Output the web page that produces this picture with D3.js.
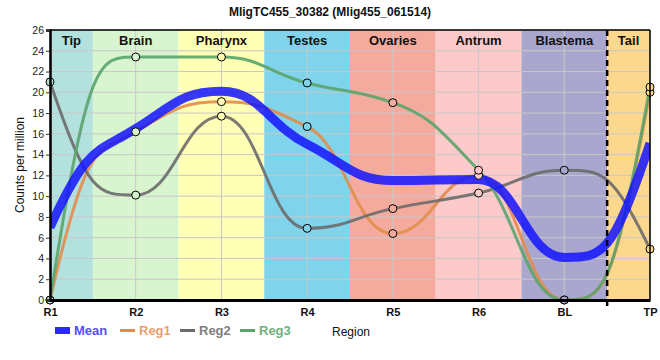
<!DOCTYPE html>
<html><head><meta charset="utf-8">
<script src="https://cdn.jsdelivr.net/npm/d3@7"></script>
<style>body{margin:0;background:#fff}svg{display:block;font-family:"Liberation Sans",Arial,sans-serif}</style>
</head><body><svg id="c" width="660" height="360"></svg>
<script>
const categories = ["R1","R2","R3","R4","R5","R6","BL","TP"];
const meanValues = [7.0,16.5,20.1,15.0,11.5,11.6,4.1,15.1];
const reg1Values = [0,16.2,19.1,16.7,6.4,12.0,0,20.0];
const reg2Values = [21.0,10.1,17.7,6.9,8.8,10.3,12.5,4.9];
const reg3Values = [0,23.4,23.4,20.9,19.0,12.5,0,20.5];
const regionNames = ["Tip","Brain","Pharynx","Testes","Ovaries","Antrum","Blastema","Tail"];
const regionStart = [0,0.5,1.5,2.5,3.5,4.5,5.5,6.5];
const regionEnd = [0.5,1.5,2.5,3.5,4.5,5.5,6.5,7];
const regionColors = ["#b3e1dd","#d8f5cf","#ffffb5","#7fd3ea","#f4ab9d","#fccacb","#a9a7cd","#fcd88e"];
const yTicks = d3.range(0,27,2);
const seriesNames = ["Reg1","Reg2","Reg3"];
const seriesColors = ["#e28c4c","#6b6b6b","#5aa46c"];
const legendTextColors = ["#e8a070","#808080","#6fb07f"];

const svg = d3.select("#c");
const L=50,R=650,T=30,B=300;
const x = d3.scalePoint().domain(categories).range([L,R]);
const step = x.step();
const xi = i => L + i*step;
const y = d3.scaleLinear().domain([0,26]).range([B,T]);

// shape-preserving bezier spline (harmonic-mean tangents, wide handles)
function spline(vals){
  const P = vals.map((v,i)=>({x:x(categories[i]), y:y(v)}));
  const n = P.length, f = 0.45;
  const d = [];
  for(let i=0;i<n-1;i++) d.push((P[i+1].y-P[i].y)/(P[i+1].x-P[i].x));
  const m = new Array(n).fill(0);
  for(let i=1;i<n-1;i++){
    const a=d[i-1], b=d[i];
    m[i] = (a*b>0) ? 2/(1/a+1/b) : 0;
  }
  m[0] = 3*d[0]-2*m[1];
  m[n-1] = 3*d[n-2]-2*m[n-2];
  const clamp = (v,a,b)=>Math.max(Math.min(a,b),Math.min(Math.max(a,b),v));
  const path = d3.path();
  path.moveTo(P[0].x,P[0].y);
  for(let i=0;i<n-1;i++){
    const a=P[i], b=P[i+1], h=b.x-a.x;
    const c1y = clamp(a.y + m[i]*f*h, a.y, b.y);
    const c2y = clamp(b.y - m[i+1]*f*h, a.y, b.y);
    path.bezierCurveTo(a.x+f*h, c1y, b.x-f*h, c2y, b.x, b.y);
  }
  return path.toString();
}

// bands
svg.append("g").selectAll("rect").data(regionNames).join("rect")
  .attr("x",(d,i)=>xi(regionStart[i])).attr("y",T)
  .attr("width",(d,i)=>xi(regionEnd[i])-xi(regionStart[i])).attr("height",B-T)
  .attr("fill",(d,i)=>regionColors[i]);

// grid
const g = svg.append("g");
g.selectAll("line.h").data(yTicks).join("line").attr("class","h")
  .attr("x1",L).attr("x2",R).attr("y1",d=>y(d)).attr("y2",d=>y(d))
  .attr("stroke","#c8c8c8").attr("stroke-width",1);
g.selectAll("line.v").data(categories).join("line").attr("class","v")
  .attr("x1",d=>x(d)).attr("x2",d=>x(d)).attr("y1",T).attr("y2",B)
  .attr("stroke","#c8c8c8").attr("stroke-width",1);

// band labels
svg.append("g").selectAll("text").data(regionNames).join("text")
  .attr("x",(d,i)=>(xi(regionStart[i])+xi(regionEnd[i]))/2).attr("y",45)
  .attr("text-anchor","middle").attr("font-size",13).attr("font-weight","bold")
  .attr("fill","#111").text(d=>d);

// clip
svg.append("clipPath").attr("id","clip").append("rect").attr("x",L).attr("y",T).attr("width",R-L).attr("height",B-T);

const lines = svg.append("g").attr("clip-path","url(#clip)");
[reg1Values,reg2Values,reg3Values].forEach((vals,k)=>{
  lines.append("path").attr("d",spline(vals)).attr("fill","none")
    .attr("stroke",seriesColors[k]).attr("stroke-width",3).attr("opacity",0.9);
});
lines.append("path").attr("d",spline(meanValues)).attr("fill","none")
  .attr("stroke","#1414ff").attr("stroke-width",9).attr("opacity",0.85);

// dashed line
svg.append("line").attr("x1",xi(6.5)).attr("x2",xi(6.5)).attr("y1",T).attr("y2",B+6)
  .attr("stroke","#000").attr("stroke-width",2.5).attr("stroke-dasharray","6,4");

// circles
const bandColorAt = i => { for(let k=0;k<regionNames.length;k++){ if(i>=regionStart[k] && i<regionEnd[k]) return regionColors[k]; } return regionColors[regionColors.length-1]; };
const pts = svg.append("g");
[reg1Values,reg2Values,reg3Values].forEach(vals=>{
  pts.selectAll(null).data(vals).join("circle")
    .attr("cx",(d,i)=>x(categories[i])).attr("cy",d=>y(d)).attr("r",4)
    .attr("fill",(d,i)=>bandColorAt(i)).attr("stroke","#000").attr("stroke-width",1);
});

// frame
svg.append("line").attr("x1",L).attr("x2",R).attr("y1",T).attr("y2",T).attr("stroke","#000").attr("stroke-width",1.5);
svg.append("line").attr("x1",R).attr("x2",R).attr("y1",T).attr("y2",B).attr("stroke","#000").attr("stroke-width",1.5);

// y axis
const ya = svg.append("g").attr("transform",`translate(${L},0)`)
  .call(d3.axisLeft(y).tickValues(yTicks).tickSize(4).tickPadding(2).tickFormat(d3.format("d")));
ya.select(".domain").attr("stroke","#000").attr("stroke-width",2.5);
ya.selectAll("text").attr("font-size",10.5).attr("fill","#222").attr("font-family","Liberation Sans, Arial, sans-serif");
ya.selectAll(".tick line").attr("stroke","#333");

// x axis
const xa = svg.append("g").attr("transform",`translate(0,${B})`)
  .call(d3.axisBottom(x).tickSize(0).tickPadding(6));
xa.select(".domain").attr("stroke","#000").attr("stroke-width",3);
xa.selectAll("text").attr("font-size",11).attr("font-weight","bold").attr("fill","#111")
  .attr("dy","0.9em").attr("font-family","Liberation Sans, Arial, sans-serif");

// title
svg.append("text").attr("x",330).attr("y",16).attr("text-anchor","middle")
  .attr("font-size",12).attr("font-weight","bold").attr("fill","#111")
  .text("MligTC455_30382 (Mlig455_061514)");

// y label
svg.append("text").attr("transform","translate(24,165) rotate(-90)").attr("text-anchor","middle")
  .attr("font-size",12).attr("fill","#111").text("Counts per million");

// legend
const lg = svg.append("g");
lg.append("rect").attr("x",55).attr("y",327).attr("width",15).attr("height",7).attr("fill","#2a2aff");
lg.append("text").attr("x",74).attr("y",335).attr("font-size",13).attr("font-weight","bold").attr("fill","#5050ff").text("Mean");
seriesNames.forEach((n,k)=>{
  const x0 = 120 + k*60;
  lg.append("line").attr("x1",x0).attr("x2",x0+15).attr("y1",330.5).attr("y2",330.5)
    .attr("stroke",seriesColors[k]).attr("stroke-width",3);
  lg.append("text").attr("x",x0+19).attr("y",335).attr("font-size",13).attr("font-weight","bold")
    .attr("fill",legendTextColors[k]).text(n);
});
svg.append("text").attr("x",332).attr("y",336).attr("font-size",12).attr("fill","#111").text("Region");
</script></body></html>
